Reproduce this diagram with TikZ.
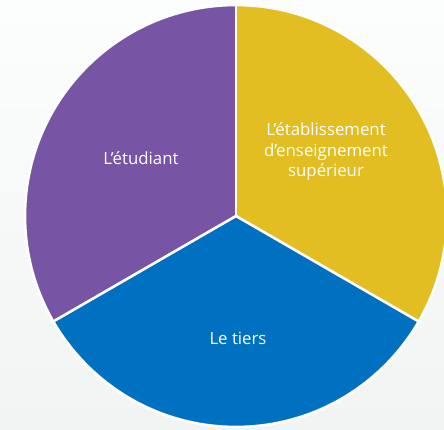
\documentclass[tikz,border=0pt]{standalone}
\usepackage{fontspec}
\setmainfont{Open Sans}
\definecolor{cpurple}{HTML}{7855A4}
\definecolor{cyellow}{HTML}{E2BE22}
\definecolor{cblue}{HTML}{0071C1}
\definecolor{bgtop}{HTML}{FCFDFD}
\definecolor{bgbot}{HTML}{F2F3F3}
\tikzset{
  sector/.style={draw=white, line width=2.6pt, line join=miter},
  lbl/.style={text=white, font=\fontsize{16.8}{20.5}\selectfont, align=center, inner sep=0pt}
}
\begin{document}
\begin{tikzpicture}[x=1pt,y=-1pt]
\shade[top color=bgtop, bottom color=bgbot] (0,0) rectangle (444,430);
\useasboundingbox (0,0) rectangle (444,430);
\coordinate (c) at (236,216);
\def\R{211}
\fill[cyellow] (c) -- ++(90:-\R) arc[start angle=-90, end angle=30, radius=\R] -- cycle;
\fill[cblue] (c) -- ++(30:\R) arc[start angle=30, end angle=150, radius=\R] -- cycle;
\fill[cpurple] (c) -- ++(150:\R) arc[start angle=150, end angle=270, radius=\R] -- cycle;
\draw[sector] (c) circle[radius=\R];
\draw[sector] (c) -- ++(0,-\R-2);
\draw[sector] (c) -- ++(30:\R+2);
\draw[sector] (c) -- ++(150:\R+2);
\node[lbl] (etu) at (141,158) {L’étudiant};
\node[lbl] (eta) at (326,152) {L’établissement\\d’enseignement\\supérieur};
\node[lbl] (tie) at (238,338) {Le tiers};
\end{tikzpicture}
\end{document}
